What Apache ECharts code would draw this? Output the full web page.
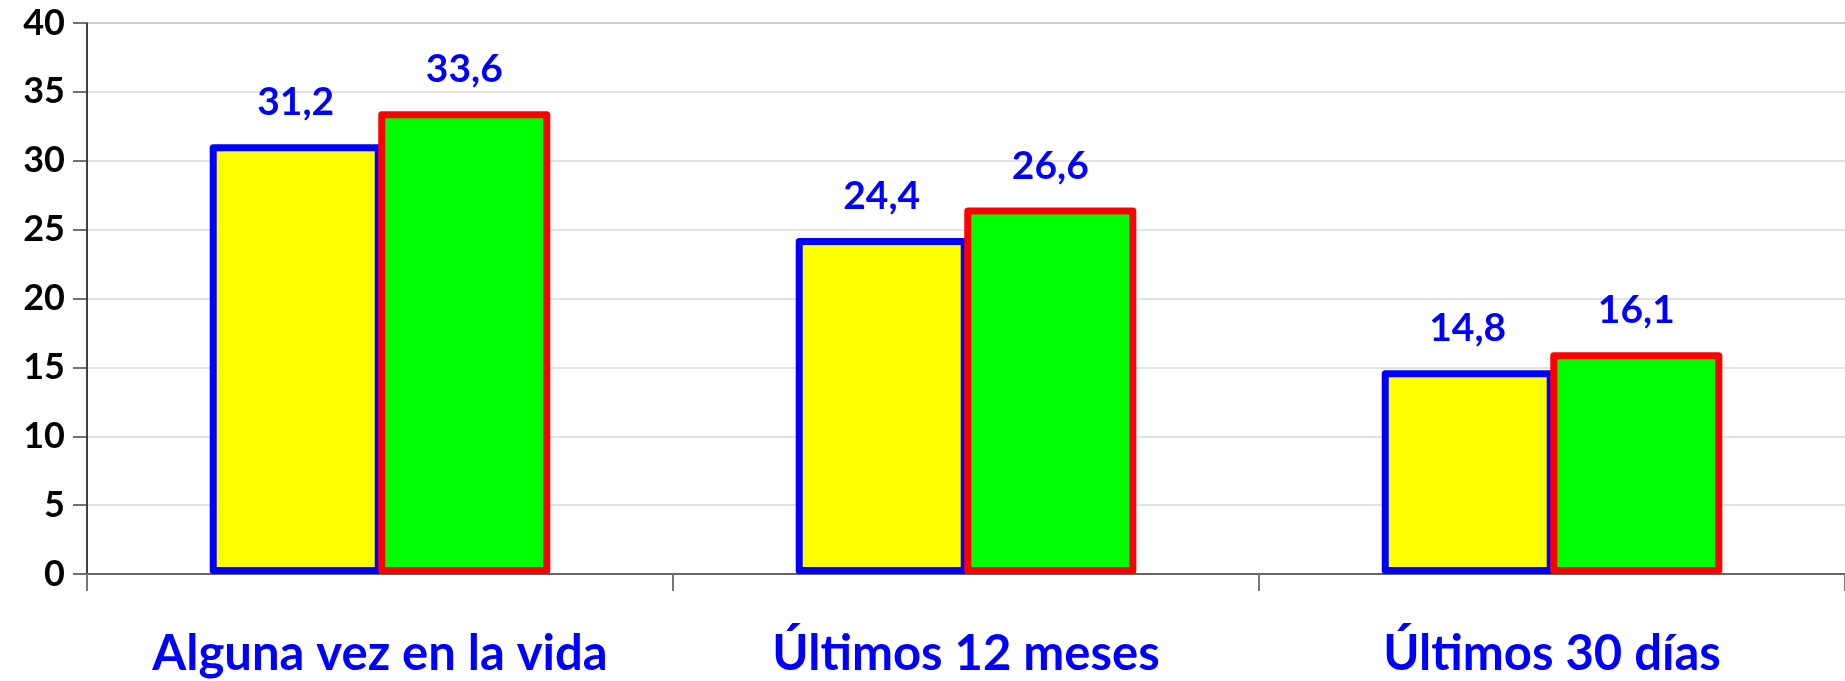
<!DOCTYPE html>
<html>
<head>
<meta charset="utf-8">
<script src="https://cdn.jsdelivr.net/npm/echarts@6/dist/echarts.min.js"></script>
<style>
  html, body { margin: 0; padding: 0; background: #fff; }
  #chart { width: 1845px; height: 681px; }
</style>
</head>
<body>
<div id="chart"></div>
<script>
const categories = ['Alguna vez en la vida', 'Últimos 12 meses', 'Últimos 30 días'];
const serieA = [31.2, 24.4, 14.8];
const serieB = [33.6, 26.6, 16.1];
const yTicks = [0, 40, 5];

const chart = echarts.init(document.getElementById('chart'));

const fmt = (p) => String(p.value).replace('.', ',');

const labelStyle = {
  show: true,
  position: 'top',
  distance: 22,
  color: '#0000ff',
  fontFamily: 'Lato',
  fontWeight: 'bold',
  fontSize: 39,
  formatter: fmt,
};

const option = {
  animation: false,
  grid: { left: 87, right: -1, top: 23, bottom: 107, containLabel: false },
  xAxis: {
    type: 'category',
    data: categories,
    axisLine: { lineStyle: { color: '#666', width: 2 } },
    axisTick: { show: true, interval: 0, alignWithLabel: false, length: 17, lineStyle: { color: '#777', width: 2 } },
    axisLabel: {
      interval: 0,
      hideOverlap: false,
      color: '#0000ff',
      fontFamily: 'Lato',
      fontWeight: 'bold',
      fontSize: 49,
      margin: 56,
    },
  },
  yAxis: {
    type: 'value',
    min: yTicks[0],
    max: yTicks[1],
    interval: yTicks[2],
    axisLine: { show: true, lineStyle: { color: '#000', width: 1.5 } },
    axisTick: { show: true, length: 14, lineStyle: { color: '#444', width: 1.5 } },
    axisLabel: {
      color: '#000',
      fontFamily: 'Lato',
      fontWeight: 'bold',
      fontSize: 36,
      margin: 22,
    },
    splitLine: {
      lineStyle: {
        width: 1.5,
        color: ['#d9d9d9', '#d9d9d9', '#d9d9d9', '#d9d9d9', '#d9d9d9', '#d9d9d9', '#d9d9d9', '#d9d9d9', '#bdbdbd'],
      },
    },
  },
  series: [
    {
      name: 'A',
      type: 'bar',
      data: serieA,
      barWidth: 172,
      barGap: '-2%',
      itemStyle: { color: '#ffff00', borderColor: '#0000ff', borderWidth: 7, borderJoin: 'round' },
      label: labelStyle,
    },
    {
      name: 'B',
      type: 'bar',
      data: serieB,
      barWidth: 172,
      barGap: '-2%',
      itemStyle: { color: '#00ff00', borderColor: '#ff0000', borderWidth: 7, borderJoin: 'round' },
      label: labelStyle,
    },
  ],
};

chart.setOption(option);
</script>
</body>
</html>
